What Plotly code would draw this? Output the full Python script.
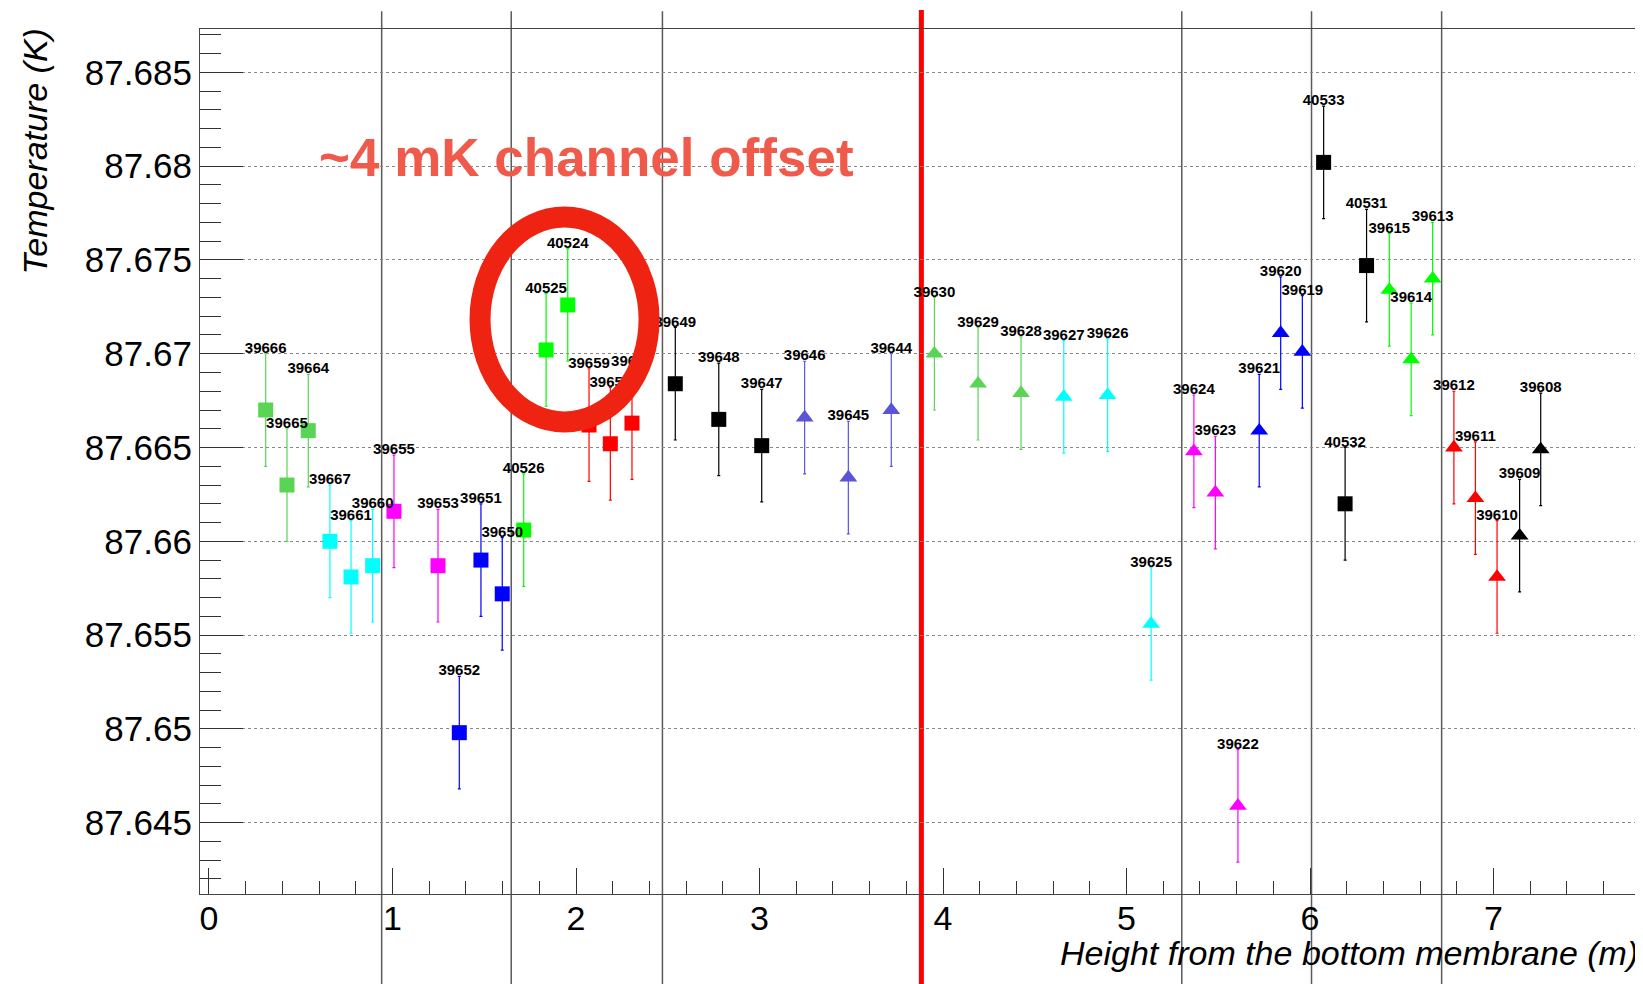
import plotly.graph_objects as go

# ---------------- data ----------------
sensor_ids = ["39666", "39665", "39664", "39667", "39661", "39660", "39655", "39653",
              "39652", "39651", "39650", "40526", "40525", "40524", "39659", "39658",
              "39657", "39649", "39648", "39647", "39646", "39645", "39644", "39630",
              "39629", "39628", "39627", "39626", "39625", "39624", "39623", "39622",
              "39621", "39620", "39619", "40533", "40532", "40531", "39615", "39614",
              "39613", "39612", "39611", "39610", "39609", "39608"]
heights_m = [0.309, 0.425, 0.541, 0.659, 0.774, 0.892, 1.008, 1.248,
             1.364, 1.482, 1.598, 1.715, 1.837, 1.955, 2.071, 2.187,
             2.305, 2.541, 2.778, 3.012, 3.246, 3.484, 3.718, 3.953,
             4.191, 4.425, 4.658, 4.897, 5.134, 5.367, 5.484, 5.607,
             5.723, 5.840, 5.958, 6.074, 6.191, 6.308, 6.432, 6.551,
             6.668, 6.784, 6.901, 7.019, 7.142, 7.257]
temps_K = [87.6670, 87.6630, 87.6659, 87.6600, 87.6581, 87.6587, 87.6616, 87.6587,
           87.6498, 87.6590, 87.6572, 87.6606, 87.6702, 87.6726, 87.6662, 87.6652,
           87.6663, 87.6684, 87.6665, 87.6651, 87.6666, 87.6634, 87.6670, 87.6700,
           87.6684, 87.6679, 87.6677, 87.6678, 87.6556, 87.6648, 87.6626, 87.6459,
           87.6659, 87.6711, 87.6701, 87.6802, 87.6620, 87.6747, 87.6734, 87.6697,
           87.6740, 87.6650, 87.6623, 87.6581, 87.6603, 87.6649]
temp_err_K = [0.003] * len(temps_K)

# group index of each sensor (styles below)
group_of = [0, 0, 0, 1, 1, 1, 2, 2, 3, 3, 3, 4, 4, 4, 5, 5,
            5, 6, 6, 6, 7, 7, 7, 8, 8, 8, 9, 9, 9, 10, 10, 10,
            11, 11, 11, 12, 12, 12, 13, 13, 13, 14, 14, 14, 15, 15]

# vertical marker lines (m) and annotation
section_lines_m = [0.941, 1.647, 2.471, 5.301, 6.008, 6.717]
red_line_m = 3.882
circle_box = dict(x0=1.477, x1=2.398, y0=87.66636, y1=87.67729)

y_tick_vals = [87.645, 87.65, 87.655, 87.66, 87.665, 87.67, 87.675, 87.68, 87.685]
y_tick_text = ["87.645", "87.65", "87.655", "87.66", "87.665", "87.67", "87.675", "87.68", "87.685"]
x_tick_vals = [0, 1, 2, 3, 4, 5, 6, 7]
x_tick_text = ["0", "1", "2", "3", "4", "5", "6", "7"]

# ---------------- styles ----------------
group_colors = ["#59d454", "#00ffff", "#ff00ff", "#0000ff", "#00ff00", "#ff0000", "#000000",
                "#5954d9", "#59d454", "#00ffff", "#ff00ff", "#0000ff", "#000000", "#00ff00",
                "#ff0000", "#000000"]
group_symbols = ["square"] * 7 + ["triangle-up"] * 5 + ["square"] + ["triangle-up"] * 3
label_drop_K = 0.00015   # small visual nudge so label baselines sit on the error-bar tops

FONT = "Liberation Sans, Arial, Helvetica, sans-serif"

fig = go.Figure()

for g in range(len(group_colors)):
    idx = [i for i, gg in enumerate(group_of) if gg == g]
    if not idx:
        continue
    sym = group_symbols[g]
    fig.add_trace(go.Scatter(
        x=[heights_m[i] for i in idx],
        y=[temps_K[i] for i in idx],
        mode="markers",
        marker=dict(symbol=sym, color=group_colors[g],
                    size=15 if sym == "square" else 15.5, line=dict(width=0)),
        error_y=dict(type="data", array=[temp_err_K[i] for i in idx],
                     color=group_colors[g], thickness=1.2, width=1.5),
        showlegend=False, hoverinfo="skip",
    ))

# sensor labels (text trace so the red ellipse can cover them)
fig.add_trace(go.Scatter(
    x=heights_m,
    y=[t + e - label_drop_K for t, e in zip(temps_K, temp_err_K)],
    mode="text", text=sensor_ids, textposition="top center",
    textfont=dict(family=FONT, size=15, color="black", weight="bold"),
    showlegend=False, hoverinfo="skip",
))

shapes = []
for xm in section_lines_m:
    shapes.append(dict(type="line", xref="x", yref="paper", x0=xm, x1=xm, y0=-0.11, y1=1.0205,
                       line=dict(color="#5a5a5a", width=1.5), layer="below"))
shapes.append(dict(type="line", xref="x", yref="paper", x0=red_line_m, x1=red_line_m, y0=-0.11, y1=1.022,
                   line=dict(color="#ff0000", width=5), layer="below"))
shapes.append(dict(type="circle", xref="x", yref="y", **circle_box,
                   line=dict(color="#ee2311", width=21), layer="above"))

annotations = [
    dict(text="~4 mK channel offset", xref="paper", yref="paper", x=0.081, y=0.8514,
         xanchor="left", yanchor="middle", showarrow=False,
         font=dict(family=FONT, size=53, color="#ef5a4b", weight="bold")),
    dict(text="<i>Temperature (K)</i>", xref="paper", yref="paper", x=-0.1146, y=1.003,
         xanchor="center", yanchor="top", textangle=-90, showarrow=False,
         font=dict(family=FONT, size=34, color="black")),
    dict(text="<i>Height from the bottom membrane (m)</i>", xref="paper", yref="paper", x=1.0, y=-0.0445,
         xanchor="right", yanchor="top", showarrow=False,
         font=dict(family=FONT, size=34, color="black")),
]

# the page body has an 8 px margin: figure is 8 px smaller and margins shifted accordingly
fig.update_layout(
    width=1635, height=976,
    margin=dict(l=192, r=3, t=21, b=90),
    paper_bgcolor="white", plot_bgcolor="white",
    shapes=shapes, annotations=annotations,
    font=dict(family=FONT, color="black"),
)
fig.update_xaxes(
    range=[-0.049, 7.798],
    tickmode="array", tickvals=x_tick_vals, ticktext=x_tick_text,
    ticks="inside", ticklen=26, tickwidth=1, tickcolor="#333",
    tickfont=dict(family=FONT, size=34, color="black"),
    ticklabelstandoff=-6,
    minor=dict(ticks="inside", ticklen=13, tickmode="linear", tick0=0, dtick=0.2,
               tickcolor="#333", tickwidth=1, showgrid=False),
    showgrid=False, zeroline=False,
    showline=True, linecolor="#444", linewidth=1.2, mirror=True,
)
fig.update_yaxes(
    range=[87.6412, 87.68731],
    tickmode="array", tickvals=y_tick_vals, ticktext=y_tick_text,
    ticks="inside", ticklen=43, tickwidth=1, tickcolor="#333",
    tickfont=dict(family=FONT, size=35, color="black"),
    minor=dict(ticks="inside", ticklen=21, tickmode="linear", tick0=87.64, dtick=0.001,
               tickcolor="#333", tickwidth=1, showgrid=False),
    showgrid=True, gridcolor="#888", griddash="dot", gridwidth=1,
    zeroline=False,
    showline=True, linecolor="#444", linewidth=1.2, mirror=True,
)

fig.write_html("out.html")
